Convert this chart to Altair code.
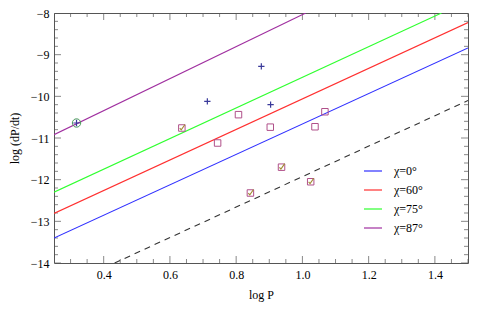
import altair as alt
import pandas as pd

# ---- data ----
series_names = ["χ=0°", "χ=60°", "χ=75°", "χ=87°"]
series_colors = ["#3030ff", "#ff3030", "#30ff30", "#a030a0"]
line_x0 = [0.25, 0.25, 0.25, 0.25]
line_y0 = [-13.40, -12.81, -12.30, -10.92]
line_x1 = [1.50, 1.50, 1.42, 1.01]
line_y1 = [-8.84, -8.23, -8.00, -8.00]

dash_x = [0.433, 1.50]
dash_y = [-14.0, -10.10]

plus_x = [0.713, 0.876, 0.904, 0.318]
plus_y = [-10.12, -9.28, -10.20, -10.64]

circle_x = [0.318]
circle_y = [-10.64]

square_x = [0.807, 0.903, 0.744, 1.068, 1.038, 0.636, 0.937, 1.025, 0.843]
square_y = [-10.44, -10.74, -11.12, -10.37, -10.73, -10.76, -11.70, -12.05, -12.32]

check_x = [0.636, 0.937, 1.025, 0.843]
check_y = [-10.76, -11.70, -12.05, -12.32]

x_major = [0.4, 0.6, 0.8, 1.0, 1.2, 1.4]
x_minor = [round(0.25 + 0.05 * k, 2) for k in range(26)]
y_major = [-14, -13, -12, -11, -10, -9, -8]
y_minor = [round(-14 + 0.2 * k, 1) for k in range(31)]

XDOM = [0.25, 1.5]
YDOM = [-14, -8]
FONT = "Liberation Serif"
FRAME = "#555555"

# ---- tables ----
rows = []
for n, x0, y0, x1, y1 in zip(series_names, line_x0, line_y0, line_x1, line_y1):
    rows.append({"series": n, "x": x0, "y": y0})
    rows.append({"series": n, "x": x1, "y": y1})
lines_df = pd.DataFrame(rows)
dash_df = pd.DataFrame({"x": dash_x, "y": dash_y})
plus_df = pd.DataFrame({"x": plus_x, "y": plus_y})
circ_df = pd.DataFrame({"x": circle_x, "y": circle_y})
sq_df = pd.DataFrame({"x": square_x, "y": square_y})
ck_df = pd.DataFrame({"x": check_x, "y": check_y})

xt = pd.DataFrame({"v": x_minor, "s": [14 if any(abs(v - m) < 1e-6 for m in x_major) else 8 for v in x_minor]})
yt = pd.DataFrame({"v": y_minor, "s": [14 if any(abs(v - m) < 1e-6 for m in y_major) else 8 for v in y_minor]})

xs = alt.Scale(domain=XDOM, nice=False, zero=False)
ys = alt.Scale(domain=YDOM, nice=False, zero=False)

xaxis = alt.Axis(values=x_major, format=".1f", title="log P", ticks=False, domain=False,
                 grid=False, labelPadding=6, titlePadding=9,
                 labelFont=FONT, labelFontSize=12, labelColor="black",
                 titleFont=FONT, titleFontSize=12, titleColor="black", titleFontWeight="normal")
yaxis = alt.Axis(values=y_major, format="d", title="log (dP/dt)", ticks=False, domain=False,
                 grid=False, labelPadding=5, titlePadding=9,
                 labelFont=FONT, labelFontSize=12, labelColor="black",
                 titleFont=FONT, titleFontSize=12, titleColor="black", titleFontWeight="normal")

W, H = 414, 250

lines = alt.Chart(lines_df).mark_line(clip=True, strokeWidth=1.1).encode(
    x=alt.X("x:Q", scale=xs, axis=xaxis),
    y=alt.Y("y:Q", scale=ys, axis=yaxis),
    color=alt.Color("series:N",
                    scale=alt.Scale(domain=series_names, range=series_colors),
                    legend=alt.Legend(orient="none", legendX=309, legendY=148, title=None,
                                      symbolType="stroke", symbolSize=324, symbolStrokeWidth=1.2,
                                      labelFont=FONT, labelFontSize=12, labelColor="black",
                                      labelOffset=11, rowPadding=3, padding=0)),
    detail="series:N",
)

dash = alt.Chart(dash_df).mark_line(clip=True, strokeDash=[6, 5], color="#333333", strokeWidth=1.1).encode(
    x=alt.X("x:Q", scale=xs), y=alt.Y("y:Q", scale=ys))

squares = alt.Chart(sq_df).mark_point(shape="square", filled=False, size=42, color="#b0508a",
                                      strokeWidth=1, opacity=1).encode(
    x=alt.X("x:Q", scale=xs), y=alt.Y("y:Q", scale=ys))

checks = alt.Chart(ck_df).mark_point(shape="M-0.5,0.05 L-0.15,0.45 L0.75,-0.85", filled=False,
                                     size=70, color="#a08a30", strokeWidth=1.1, opacity=1).encode(
    x=alt.X("x:Q", scale=xs), y=alt.Y("y:Q", scale=ys))

pluses = alt.Chart(plus_df).mark_point(shape="M-1,0H1M0,-1V1", filled=False, size=40,
                                       color="#3a3a9a", strokeWidth=1.2, opacity=1).encode(
    x=alt.X("x:Q", scale=xs), y=alt.Y("y:Q", scale=ys))

circles = alt.Chart(circ_df).mark_point(shape="circle", filled=False, size=70,
                                        color="#4a9a5a", strokeWidth=1, opacity=1).encode(
    x=alt.X("x:Q", scale=xs), y=alt.Y("y:Q", scale=ys))

tick_bottom = alt.Chart(xt).mark_tick(clip=True, color=FRAME, thickness=1).encode(
    x=alt.X("v:Q", scale=xs), y=alt.value(H), size=alt.Size("s:Q", scale=None, legend=None))
tick_top = alt.Chart(xt).mark_tick(clip=True, color=FRAME, thickness=1).encode(
    x=alt.X("v:Q", scale=xs), y=alt.value(0), size=alt.Size("s:Q", scale=None, legend=None))
tick_left = alt.Chart(yt).mark_tick(clip=True, color=FRAME, thickness=1).encode(
    y=alt.Y("v:Q", scale=ys), x=alt.value(0), size=alt.Size("s:Q", scale=None, legend=None))
tick_right = alt.Chart(yt).mark_tick(clip=True, color=FRAME, thickness=1).encode(
    y=alt.Y("v:Q", scale=ys), x=alt.value(W), size=alt.Size("s:Q", scale=None, legend=None))

chart = alt.layer(
    tick_bottom, tick_top, tick_left, tick_right,
    dash, lines, squares, checks, circles, pluses,
).properties(
    width=W, height=H,
    autosize=alt.AutoSizeParams(type="none"),
    padding={"left": 46, "top": 5, "right": 22, "bottom": 40},
    background="white",
).configure_view(
    stroke=FRAME, strokeWidth=1,
).configure_legend(
    labelFont=FONT, labelFontSize=12, labelColor="black",
).configure_text(font=FONT)

chart.save("out.html", embed_options={"renderer": "svg", "actions": False})
